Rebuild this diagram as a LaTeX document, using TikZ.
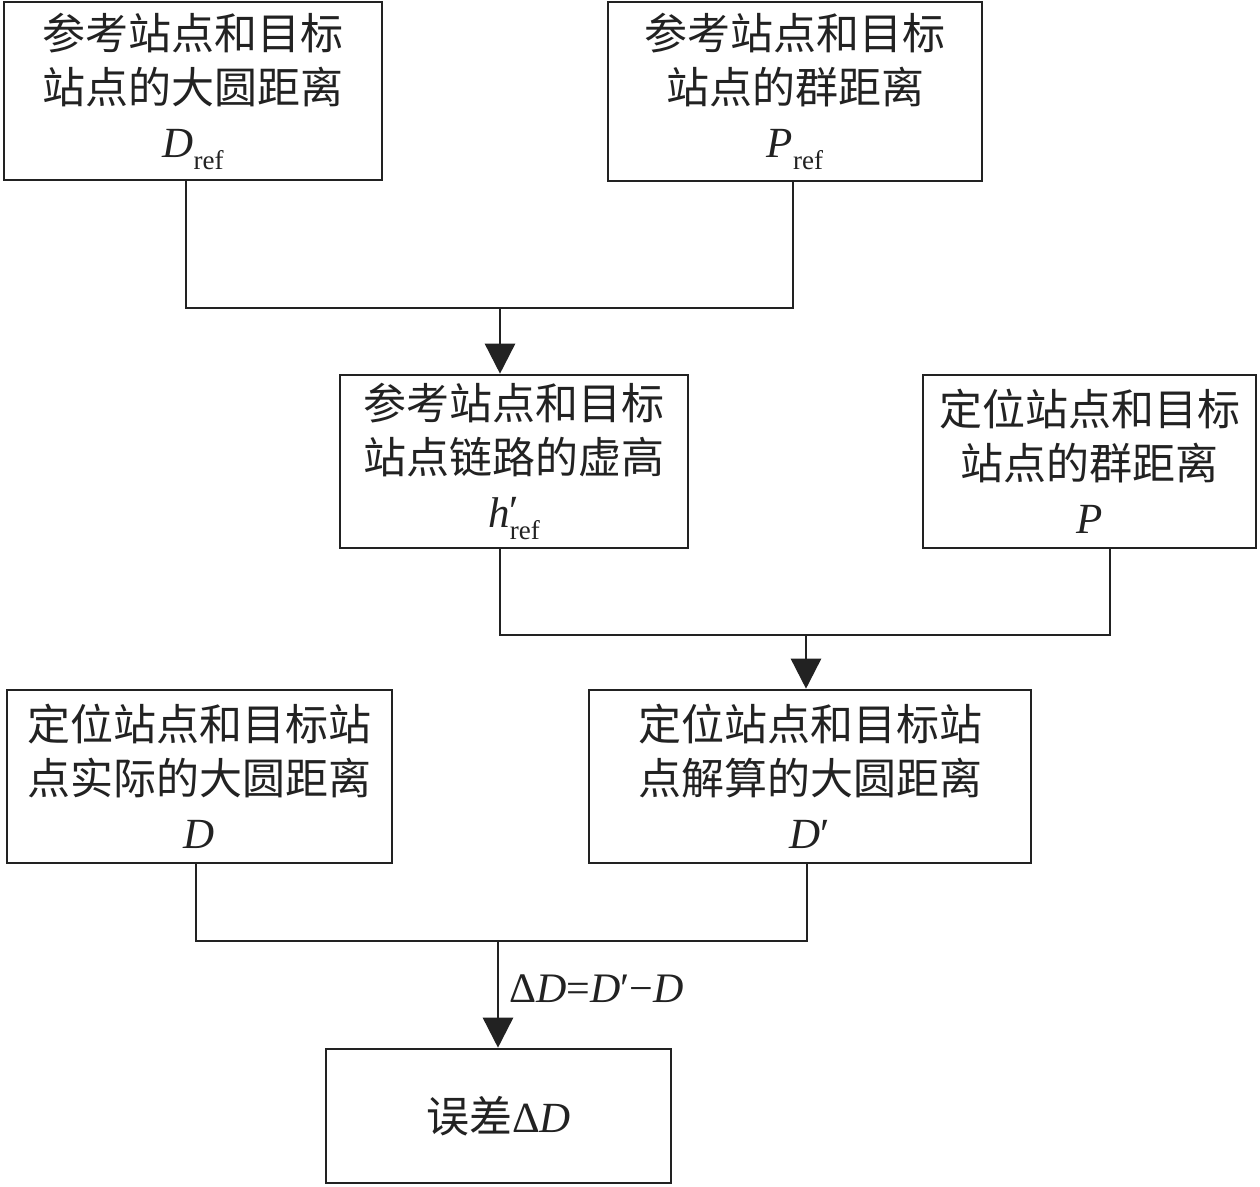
\documentclass[tikz,border=0pt]{standalone}
\usepackage{fontspec}
\setmainfont{Liberation Serif}
\newfontfamily\cjk{Noto Sans CJK SC}
\usetikzlibrary{arrows.meta}
\definecolor{ink}{HTML}{222222}
\newcommand{\subref}{\raisebox{-0.28em}{\fontsize{27}{27}\selectfont ref}}
\begin{document}
\begin{tikzpicture}[x=1pt,y=-1pt,
  box/.style={draw=ink, line width=2.6pt, rectangle, inner sep=0pt, align=center, text=ink,
    font=\fontsize{43}{54}\selectfont},
  conn/.style={draw=ink, line width=2.6pt},
  arr/.style={conn, -{Triangle[width=30pt,length=30pt]}},
  lbl/.style={text=ink, inner sep=0pt, font=\fontsize{42}{42}\selectfont}]
\useasboundingbox (0,0) rectangle (1260,1186);
\fill[white] (0,0) rectangle (1260,1186);
\node[box, minimum width=378pt, minimum height=178pt] (b1) at (193,91)
  {{\cjk 参考站点和目标}\\{\cjk 站点的大圆距离}\\\textit{D}\subref};
\node[box, minimum width=374pt, minimum height=179pt] (b2) at (795,91.5)
  {{\cjk 参考站点和目标}\\{\cjk 站点的群距离}\\\textit{P}\subref};
\node[box, minimum width=348pt, minimum height=173pt] (b3) at (514,461.5)
  {{\cjk 参考站点和目标}\\{\cjk 站点链路的虚高}\\\textit{h}\rlap{\raisebox{0.05em}{′}}\subref};
\node[box, minimum width=333pt, minimum height=173pt] (b4) at (1089.5,461.5)
  {{\cjk 定位站点和目标}\\{\cjk 站点的群距离}\\\textit{P}};
\node[box, minimum width=385pt, minimum height=173pt] (b5) at (199.5,776.5)
  {{\cjk 定位站点和目标站}\\{\cjk 点实际的大圆距离}\\\textit{D}};
\node[box, minimum width=442pt, minimum height=173pt] (b6) at (810,776.5)
  {{\cjk 定位站点和目标站}\\{\cjk 点解算的大圆距离}\\\textit{D}′};
\node[box, minimum width=345pt, minimum height=134pt] (b7) at (498.5,1116)
  {{\cjk 误差}Δ\textit{D}};
\coordinate (j1) at (500,308);
\coordinate (j2) at (806,635);
\coordinate (j3) at (498,941);
\draw[conn] ([xshift=-7pt]b1.south) |- (j1) -| ([xshift=-2pt]b2.south);
\draw[arr] (j1) -- (b3.north -| j1);
\draw[conn] ([xshift=-14pt]b3.south) |- (j2) -| ([xshift=20.5pt]b4.south);
\draw[arr] (j2) -- (b6.north -| j2);
\draw[conn] ([xshift=-3.5pt]b5.south) |- (j3) -| ([xshift=-3pt]b6.south);
\draw[arr] (j3) -- (b7.north -| j3)
  node[lbl, pos=0.45, anchor=west, xshift=10pt] (l1) {Δ\textit{D}=\textit{D}′−\textit{D}};
\end{tikzpicture}
\end{document}
